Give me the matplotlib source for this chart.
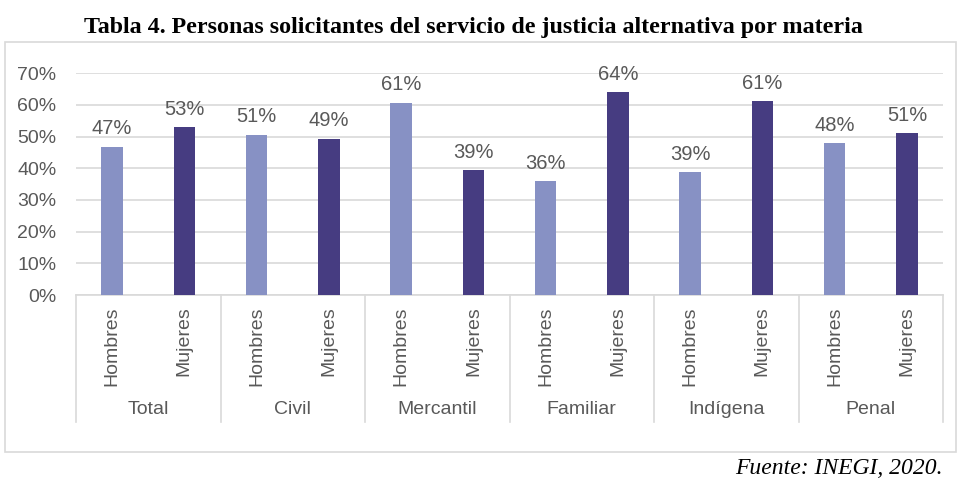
import matplotlib
matplotlib.use("Agg")
import matplotlib.pyplot as plt
from matplotlib.patches import Rectangle
import matplotlib.transforms as mtransforms

categories = ["Total", "Civil", "Mercantil", "Familiar", "Indígena", "Penal"]
series_names = ["Hombres", "Mujeres"]
hombres = [46.8, 50.6, 60.7, 36.0, 38.8, 48.0]
mujeres = [52.9, 49.4, 39.4, 64.0, 61.3, 51.1]
yticks = [0, 10, 20, 30, 40, 50, 60, 70]
title = "Tabla 4. Personas solicitantes del servicio de justicia alternativa por materia"
source = "Fuente: INEGI, 2020."

c_h = "#8791C4"
c_m = "#463C81"
txt = "#595959"
grid_c = "#D9D9D9"

W, H = 970, 491
fig = plt.figure(figsize=(W / 100, H / 100), dpi=100)
plt.rcParams["font.family"] = ["Liberation Sans", "DejaVu Sans"]

def fx(px):
    return px / W

def fy(py):
    return 1 - py / H

left, right, top, bottom = 76, 943, 73.3, 295
ax = fig.add_axes([fx(left), fy(bottom), fx(right - left), (bottom - top) / H])

# chart box
fig.patches.append(Rectangle((fx(5), fy(452)), fx(951), (452 - 42) / H,
                             transform=fig.transFigure, fill=False,
                             edgecolor=grid_c, lw=1.2))

n = len(categories)
xs_h = [2 * i for i in range(n)]
xs_m = [2 * i + 1 for i in range(n)]
bw = 0.30
ax.bar(xs_h, hombres, width=bw, color=c_h, zorder=3)
ax.bar(xs_m, mujeres, width=bw, color=c_m, zorder=3)

for x, v in zip(xs_h + xs_m, hombres + mujeres):
    ax.annotate(f"{round(v)}%", (x, v), xytext=(0, 6), textcoords="offset points",
                ha="center", va="bottom", fontsize=14.5, color=txt)

ax.set_xlim(-0.5, 2 * n - 0.5)
ax.set_ylim(0, 70)
ax.set_yticks(yticks)
ax.set_yticklabels([f"{t}%" for t in yticks], fontsize=14, color=txt)
ax.tick_params(axis="y", length=0, pad=14)
ax.set_xticks([])
ax.grid(axis="y", color=grid_c, lw=1.2, zorder=0)
for s in ["top", "right", "left"]:
    ax.spines[s].set_visible(False)
ax.spines["bottom"].set_color(grid_c)
ax.spines["bottom"].set_linewidth(1.2)

ah = bottom - top
trans = mtransforms.blended_transform_factory(ax.transData, ax.transAxes)
sep_bottom = (bottom - 422) / ah
for i in range(n + 1):
    xv = 2 * i - 0.5
    ax.plot([xv, xv], [0, sep_bottom], transform=trans, color=grid_c, lw=1.2,
            clip_on=False)

lab_y = (bottom - 306) / ah
for i in range(n):
    for x, name in ((xs_h[i], series_names[0]), (xs_m[i], series_names[1])):
        ax.text(x, lab_y, name, transform=trans, rotation=90, ha="center",
                va="top", fontsize=14, color=txt)
    ax.text(2 * i + 0.5, (bottom - 410) / ah, categories[i], transform=trans,
            ha="center", va="center", fontsize=14, color=txt)

fig.text(fx(473), fy(28), title, ha="center", va="center", fontsize=17.3,
         fontweight="bold", family=["Liberation Serif", "DejaVu Serif"])
fig.text(fx(943), fy(468), source, ha="right", va="center", fontsize=17,
         style="italic", family=["Liberation Serif", "DejaVu Serif"])

fig.savefig("out.png", dpi=100)
